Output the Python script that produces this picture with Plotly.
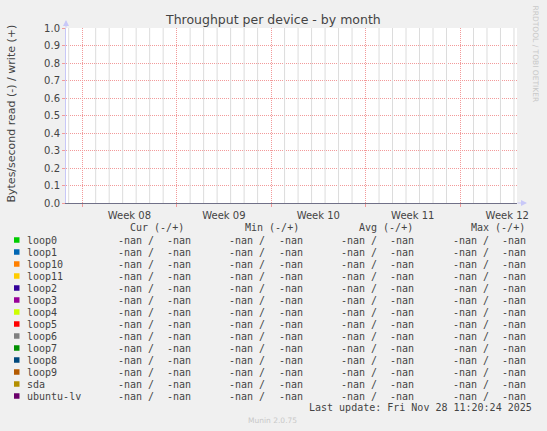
import plotly.graph_objects as go

W, H = 547, 431
PL, PR, PT, PB = 66, 517, 28, 203  # plot area in pixels

devices = ["loop0", "loop1", "loop10", "loop11", "loop2", "loop3", "loop4",
           "loop5", "loop6", "loop7", "loop8", "loop9", "sda", "ubuntu-lv"]
colors = ["#00CC00", "#0066B3", "#FF8000", "#FFCC00", "#330099", "#990099", "#CCFF00",
          "#FF0000", "#808080", "#008F00", "#00487D", "#B35A00", "#B38F00", "#6B006B"]

N = float("nan")
# legend statistics (read / write) for each device -- all "nan" in the source
cur_read = [N, N, N, N, N, N, N, N, N, N, N, N, N, N]
cur_write = [N, N, N, N, N, N, N, N, N, N, N, N, N, N]
min_read = [N, N, N, N, N, N, N, N, N, N, N, N, N, N]
min_write = [N, N, N, N, N, N, N, N, N, N, N, N, N, N]
avg_read = [N, N, N, N, N, N, N, N, N, N, N, N, N, N]
avg_write = [N, N, N, N, N, N, N, N, N, N, N, N, N, N]
max_read = [N, N, N, N, N, N, N, N, N, N, N, N, N, N]
max_write = [N, N, N, N, N, N, N, N, N, N, N, N, N, N]

# time series (no data recorded -> nan)
sample_times = ["2025-02-15 19:12", "2025-03-21 05:23"]
read_bps = [[N, N] for _ in devices]
write_bps = [[N, N] for _ in devices]

stat_headers = ["Cur (-/+)", "Min (-/+)", "Avg (-/+)", "Max (-/+)"]
y_ticks = [0.0, 0.1, 0.2, 0.3, 0.4, 0.5, 0.6, 0.7, 0.8, 0.9, 1.0]
last_update = "Last update: Fri Nov 28 11:20:24 2025"
x_range = ["2025-02-15 19:12", "2025-03-21 05:23"]
# daily minor grid positions (week starts are drawn by the major grid)
day_ticks = ["2025-02-16", "2025-02-18", "2025-02-19", "2025-02-20",
             "2025-02-21", "2025-02-22", "2025-02-23", "2025-02-25",
             "2025-02-26", "2025-02-27", "2025-02-28", "2025-03-01", "2025-03-02",
             "2025-03-04", "2025-03-05", "2025-03-06", "2025-03-07",
             "2025-03-08", "2025-03-09", "2025-03-11", "2025-03-12",
             "2025-03-13", "2025-03-14", "2025-03-15", "2025-03-16",
             "2025-03-18", "2025-03-19", "2025-03-20", "2025-03-21"]


def fx(px):
    return (px - PL) / (PR - PL)


def fy(py):
    return (PB - py) / (PB - PT)


def fmt(v):
    return "-nan" if v != v else "%.2f" % v


fig = go.Figure()
for i, d in enumerate(devices):
    fig.add_trace(go.Scatter(x=sample_times, y=[-v if v == v else None for v in read_bps[i]],
                             mode="lines", line=dict(color=colors[i], width=1),
                             name=d, showlegend=False, hoverinfo="skip"))
    fig.add_trace(go.Scatter(x=sample_times, y=[v if v == v else None for v in write_bps[i]],
                             mode="lines", line=dict(color=colors[i], width=1),
                             name=d, showlegend=False, hoverinfo="skip"))

TXT = "#444444"
SANS = "DejaVu Sans"
MONO = "DejaVu Sans Mono"
GRID_MAJOR = "#F29A9A"
GRID_MINOR = "#DCDCDC"

ann = []
shapes = []

# daily minor grid (data coordinates on x)
for d in day_ticks:
    shapes.append(dict(type="line", xref="x", yref="paper", x0=d, x1=d, y0=0, y1=1,
                       layer="above", line=dict(color=GRID_MINOR, width=1)))

# title
ann.append(dict(text="Throughput per device - by month", x=fx(273), y=fy(19),
                xref="paper", yref="paper", showarrow=False, xanchor="center", yanchor="middle",
                font=dict(family=SANS, size=12.5, color=TXT)))
# y-axis title
ann.append(dict(text="Bytes/second read (-) / write (+)", x=fx(10.5), y=fy(114),
                xref="paper", yref="paper", showarrow=False, textangle=-90,
                xanchor="center", yanchor="middle",
                font=dict(family=SANS, size=11, color=TXT)))
# rrdtool credit
ann.append(dict(text="RRDTOOL / TOBI OETIKER", x=fx(535), y=fy(53.5),
                xref="paper", yref="paper", showarrow=False, textangle=90,
                xanchor="center", yanchor="middle",
                font=dict(family=SANS, size=7.5, color="#C8C8C8")))
# axis arrows
ann.append(dict(text="", x=fx(527), y=fy(PB), xref="paper", yref="paper",
                ax=-11, ay=0, showarrow=True, arrowhead=2, arrowsize=1.2, arrowwidth=1,
                arrowcolor="#C8C8F8"))
ann.append(dict(text="", x=fx(PL), y=fy(20), xref="paper", yref="paper",
                ax=0, ay=9, showarrow=True, arrowhead=2, arrowsize=1.2, arrowwidth=1,
                arrowcolor="#C8C8F8"))

# legend table
header_x = [129.3, 244.0, 358.7, 470.3]
cell_left = [117.3, 228.7, 340.3, 452.7]
cell_right = [191.7, 303.7, 414.7, 526.3]
for hx, h in zip(header_x, stat_headers):
    ann.append(dict(text=h, x=fx(hx - 1.5), y=fy(227.3), xref="paper", yref="paper",
                    showarrow=False, xanchor="left", yanchor="middle",
                    font=dict(family=MONO, size=10, color=TXT)))

stats = [(cur_read, cur_write), (min_read, min_write), (avg_read, avg_write), (max_read, max_write)]
for i, d in enumerate(devices):
    ry = 240 + 12 * i
    shapes.append(dict(type="rect", xref="paper", yref="paper",
                       x0=fx(14), x1=fx(19.5), y0=fy(ry - 2.75), y1=fy(ry + 2.75),
                       fillcolor=colors[i], line=dict(width=0)))
    ann.append(dict(text=d, x=fx(26.7 - 1.5), y=fy(ry), xref="paper", yref="paper",
                    showarrow=False, xanchor="left", yanchor="middle",
                    font=dict(family=MONO, size=10, color=TXT)))
    for k, (rd, wr) in enumerate(stats):
        ann.append(dict(text=fmt(rd[i]) + " /", x=fx(cell_left[k] - 1.5), y=fy(ry),
                        xref="paper", yref="paper", showarrow=False,
                        xanchor="left", yanchor="middle",
                        font=dict(family=MONO, size=10, color=TXT)))
        ann.append(dict(text=fmt(wr[i]), x=fx(cell_right[k] + 1.5), y=fy(ry),
                        xref="paper", yref="paper", showarrow=False,
                        xanchor="right", yanchor="middle",
                        font=dict(family=MONO, size=10, color=TXT)))

ann.append(dict(text=last_update, x=fx(533.5), y=fy(407.5), xref="paper", yref="paper",
                showarrow=False, xanchor="right", yanchor="middle",
                font=dict(family=MONO, size=10, color=TXT)))
ann.append(dict(text="Munin 2.0.75", x=fx(272.5), y=fy(420), xref="paper", yref="paper",
                showarrow=False, xanchor="center", yanchor="middle",
                font=dict(family=SANS, size=7.5, color="#C8C8C8")))

fig.update_layout(
    width=W, height=H,
    margin=dict(l=PL, r=W - PR, t=PT, b=H - PB, pad=0),
    paper_bgcolor="#F0F0F0", plot_bgcolor="#FFFFFF",
    showlegend=False,
    annotations=ann, shapes=shapes,
    xaxis=dict(
        type="date", range=x_range,
        tick0="2025-02-17", dtick=7 * 86400000,
        ticklabelmode="period", tickformat="Week %V",
        showgrid=True, gridcolor=GRID_MAJOR, griddash="1px,1px", gridwidth=1,
        ticks="outside", ticklen=3, tickcolor=GRID_MAJOR,
        showline=True, linecolor="#707088", linewidth=1,
        zeroline=False,
        tickfont=dict(family=SANS, size=10, color=TXT),
        fixedrange=True,
    ),
    yaxis=dict(
        range=[0, 1.0],
        tickvals=y_ticks, ticktext=["%.1f" % v for v in y_ticks],
        showgrid=True, gridcolor=GRID_MAJOR, griddash="1px,1px", gridwidth=1,
        ticks="outside", ticklen=3, tickcolor=GRID_MAJOR,
        showline=True, linecolor="#C8C8F8", linewidth=1,
        zeroline=False,
        tickfont=dict(family=SANS, size=10, color=TXT),
        fixedrange=True,
    ),
)

fig.write_html("out.html", config={"displayModeBar": False},
               post_script="document.body.style.margin='0px';document.body.style.background='#F0F0F0';")
